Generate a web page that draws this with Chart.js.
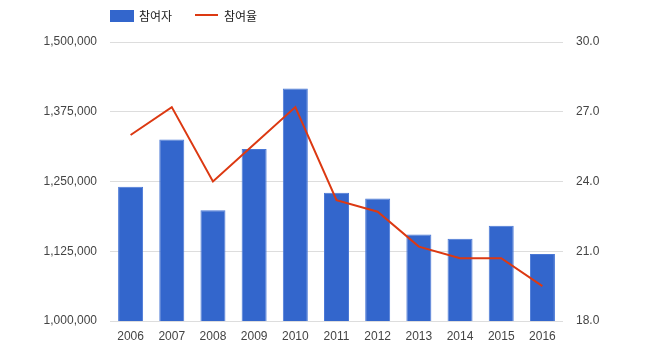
<!DOCTYPE html>
<html>
<head>
<meta charset="utf-8">
<script src="https://cdn.jsdelivr.net/npm/chart.js@4"></script>
<style>
  body { margin: 0; background: #fff; }
  #wrap { width: 650px; height: 362px; }
</style>
</head>
<body>
<div id="wrap"><canvas id="graf" width="650" height="362"></canvas></div>
<script>
// data
const years = ["2006", "2007", "2008", "2009", "2010", "2011", "2012", "2013", "2014", "2015", "2016"];
const participants = [1240400, 1325300, 1198700, 1308400, 1416600, 1229700, 1219700, 1155200, 1147300, 1170600, 1120000];
const rate = [26.0, 27.2, 24.0, 25.6, 27.2, 23.2, 22.7, 21.2, 20.7, 20.7, 19.5];
const seriesNames = ["참여자", "참여율"];

const fontFam = "'Liberation Sans', Arial, sans-serif";
const txt = "#444";

// legend on top, drawn by hand so it lines up with the plot
const topLegend = {
  id: 'topLegend',
  afterDraw(chart) {
    const c = chart.ctx;
    const x0 = chart.chartArea.left;
    c.save();
    c.fillStyle = '#3366cc';
    c.fillRect(x0, 10, 24, 12);
    c.font = "12px 'Noto Sans CJK KR', sans-serif";
    c.fillStyle = '#222';
    c.textBaseline = 'middle';
    c.fillText(chart.data.datasets[0].label, x0 + 29, 16);
    c.strokeStyle = '#dc3912';
    c.lineWidth = 2;
    c.beginPath();
    c.moveTo(x0 + 85, 15);
    c.lineTo(x0 + 108, 15);
    c.stroke();
    c.fillText(chart.data.datasets[1].label, x0 + 114, 16);
    c.restore();
  }
};

const ctx = document.getElementById('graf').getContext('2d');

new Chart(ctx, {
  type: 'bar',
  data: {
    labels: years,
    datasets: [
      {
        label: seriesNames[0],
        data: participants,
        backgroundColor: '#3366cc',
        borderColor: '#4a78d6',
        borderWidth: 1,
        barPercentage: 0.607,
        categoryPercentage: 1,
        yAxisID: 'y',
        order: 1
      },
      {
        type: 'line',
        label: seriesNames[1],
        data: rate,
        borderColor: '#dc3912',
        borderWidth: 2,
        pointRadius: 0,
        tension: 0,
        yAxisID: 'y2',
        order: 0
      }
    ]
  },
  options: {
    responsive: false,
    animation: false,
    layout: { padding: { top: 42, right: 0, bottom: 0, left: 0 } },
    plugins: {
      legend: { display: false },
      tooltip: { enabled: false }
    },
    scales: {
      x: {
        grid: { display: false },
        border: { display: false },
        ticks: { color: txt, font: { family: fontFam, size: 12 }, padding: 0, maxRotation: 0 },
        afterFit: s => { s.height = 41; }
      },
      y: {
        position: 'left',
        min: 1000000,
        max: 1500000,
        grid: { color: '#dddddd', drawTicks: false },
        border: { display: false },
        ticks: {
          stepSize: 125000,
          color: txt,
          padding: 13,
          font: { family: fontFam, size: 12 },
          callback: v => v.toLocaleString('en-US')
        },
        afterFit: s => { s.width = 110; }
      },
      y2: {
        position: 'right',
        min: 18,
        max: 30,
        grid: { display: false, drawTicks: false },
        border: { display: false },
        ticks: {
          stepSize: 3,
          color: txt,
          padding: 13,
          font: { family: fontFam, size: 12 },
          callback: v => v.toFixed(1)
        },
        afterFit: s => { s.width = 87; }
      }
    }
  },
  plugins: [topLegend]
});
</script>
</body>
</html>
